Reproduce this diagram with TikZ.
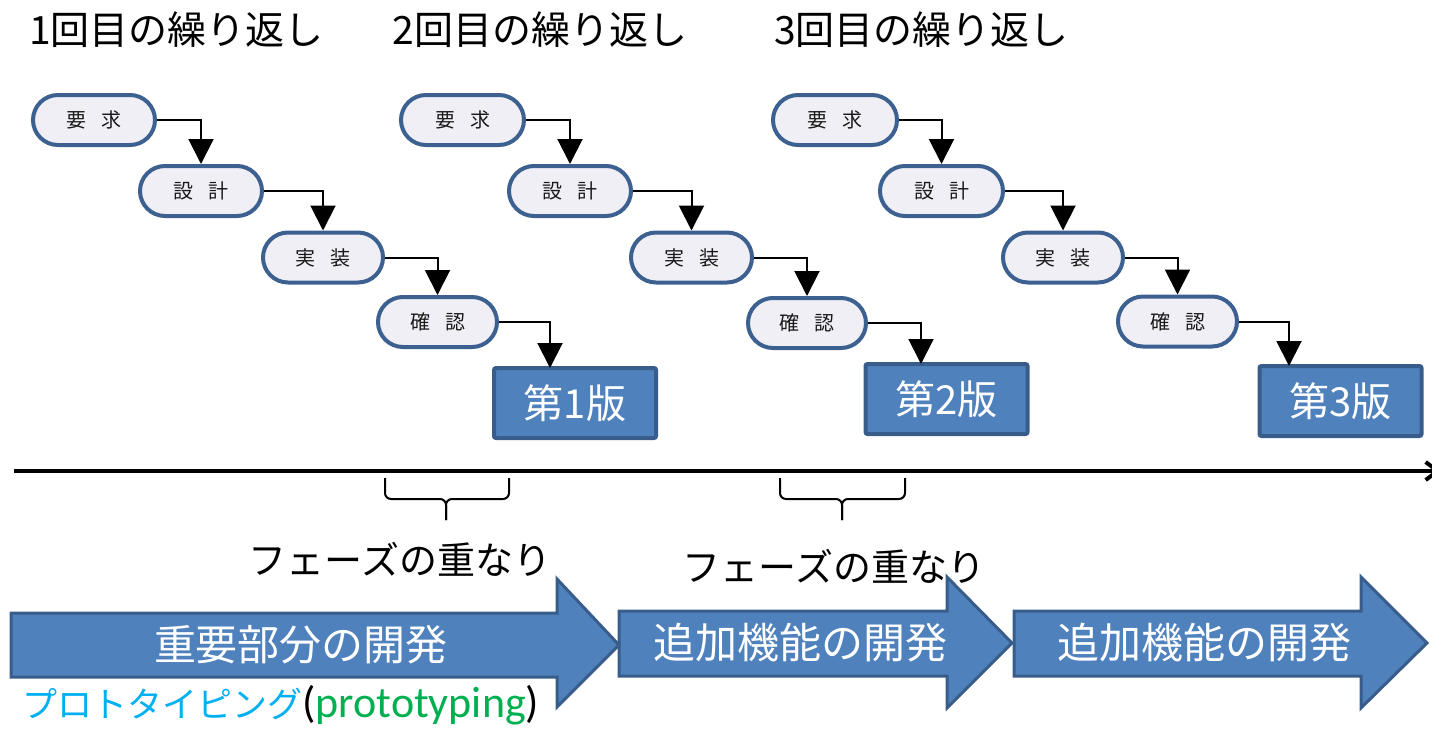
\documentclass[tikz,border=0pt]{standalone}
\usepackage{fontspec}
\newfontfamily\jp{Noto Sans CJK JP}
\newfontfamily\lat{Carlito}
\usetikzlibrary{shapes.misc,arrows.meta}
\definecolor{stepfill}{HTML}{F1EFF6}
\definecolor{stepline}{HTML}{3C6090}
\definecolor{verfill}{HTML}{4F81BD}
\definecolor{verline}{HTML}{385D8A}
\definecolor{protocyan}{HTML}{00B0F0}
\definecolor{protogreen}{HTML}{00B050}
\begin{document}
\begin{tikzpicture}[x=0.5pt,y=-0.5pt,
 stepbox/.style={rounded rectangle, draw=stepline, fill=stepfill, line width=2pt, minimum height=25pt, inner sep=0pt, font=\jp\fontsize{10pt}{12pt}\selectfont, text=black!90},
 verbox/.style={rectangle, rounded corners=1pt, draw=verline, fill=verfill, line width=2pt, minimum height=34pt, minimum width=81pt, inner sep=0pt, text=white, font=\jp\fontsize{20pt}{24pt}\selectfont},
 flow/.style={line width=1pt, -{Triangle[length=12.5pt,width=12.5pt]}},
 title/.style={font=\jp\fontsize{19.5pt}{23pt}\selectfont, inner sep=0pt},
 bigarrow/.style={fill=verfill, draw=verline, line width=1.5pt, line join=miter},
 arrowtext/.style={text=white, font=\jp\fontsize{21pt}{25pt}\selectfont, inner sep=0pt},
 overlap/.style={font=\jp\fontsize{19pt}{23pt}\selectfont, inner sep=0pt},
 bracepath/.style={line width=1pt, rounded corners=3pt}
]
\useasboundingbox (0,0) rectangle (1432,729);

% titles
\node[title] (t1) at (176.5,30) {1回目の繰り返し};
\node[title] (t2) at (540,30) {2回目の繰り返し};
\node[title] (t3) at (921.5,30) {3回目の繰り返し};

% group 1
\node[stepbox, minimum width=61pt] (r1) at (94,120) {要\hspace{.75em}求};
\node[stepbox, minimum width=61pt] (d1) at (201,191) {設\hspace{.75em}計};
\node[stepbox, minimum width=60pt] (i1) at (323,257.5) {実\hspace{.75em}装};
\node[stepbox, minimum width=59.5pt] (c1) at (437.5,322) {確\hspace{.75em}認};
\node[verbox, minimum height=35pt] (v1) at (575,403) {第1版};
\coordinate (v1in) at (550,368);
\draw[flow] (r1.east) -| (d1.north);
\draw[flow] (d1.east) -| (i1.north);
\draw[flow] (i1.east) -| (c1.north);
\draw[flow] (c1.east) -| (v1in);

% group 2
\node[stepbox, minimum width=61.5pt] (r2) at (462.5,120) {要\hspace{.75em}求};
\node[stepbox, minimum width=61pt] (d2) at (570,191) {設\hspace{.75em}計};
\node[stepbox, minimum width=60.5pt] (i2) at (691.5,257.5) {実\hspace{.75em}装};
\node[stepbox, minimum width=59pt] (c2) at (807,323) {確\hspace{.75em}認};
\node[verbox, minimum height=35pt] (v2) at (946.5,399) {第2版};
\coordinate (v2in) at (921,364);
\draw[flow] (r2.east) -| (d2.north);
\draw[flow] (d2.east) -| (i2.north);
\draw[flow] (i2.east) -| (c2.north);
\draw[flow] (c2.east) -| (v2in);

% group 3
\node[stepbox, minimum width=62pt] (r3) at (835,120) {要\hspace{.75em}求};
\node[stepbox, minimum width=61.5pt] (d3) at (941.5,191) {設\hspace{.75em}計};
\node[stepbox, minimum width=60pt] (i3) at (1063,257.5) {実\hspace{.75em}装};
\node[stepbox, minimum width=59.5pt] (c3) at (1177.5,321.5) {確\hspace{.75em}認};
\node[verbox, minimum height=35pt] (v3) at (1340.5,401) {第3版};
\coordinate (v3in) at (1289,366);
\draw[flow] (r3.east) -| (d3.north);
\draw[flow] (d3.east) -| (i3.north);
\draw[flow] (i3.east) -| (c3.north);
\draw[flow] (c3.east) -| (v3in);

% timeline
\coordinate (tl0) at (14,471);
\coordinate (tl1) at (1441,471);
\draw[line width=2pt, -{Straight Barb[length=6pt,width=9pt]}] (tl0) -- (tl1);

% braces
\draw[bracepath] (385,478) -- (385,499) -- (446,499) -- (446,520);
\draw[bracepath] (509,478) -- (509,499) -- (446,499) -- (446,520);
\draw[bracepath] (780,478) -- (780,499) -- (842,499) -- (842,520);
\draw[bracepath] (905,478) -- (905,499) -- (842,499) -- (842,520);
\node[overlap] (o1) at (400,559) {フェーズの重なり};
\node[overlap] (o2) at (834,566) {フェーズの重なり};

% big arrows
\draw[bigarrow] (11,613) -- (557,613) -- (557,579) -- (619,645) -- (557,707) -- (557,677) -- (11,677) -- cycle;
\draw[bigarrow] (619,611) -- (947,611) -- (947,577) -- (1012,643) -- (947,708) -- (947,676) -- (619,676) -- cycle;
\draw[bigarrow] (1014,611) -- (1361,611) -- (1361,577) -- (1427,643) -- (1361,708) -- (1361,676) -- (1014,676) -- cycle;
\node[arrowtext] (a1) at (301,645) {重要部分の開発};
\node[arrowtext] (a2) at (800,643) {追加機能の開発};
\node[arrowtext] (a3) at (1204.5,643) {追加機能の開発};

% prototyping label
\node[anchor=base west, inner sep=0pt] (proto) at (22,717) {\textcolor{protocyan}{\jp\fontsize{17.5pt}{21pt}\selectfont プロトタイピング}\lat\fontsize{22pt}{26pt}\selectfont(\textcolor{protogreen}{prototyping})};
\end{tikzpicture}
\end{document}
